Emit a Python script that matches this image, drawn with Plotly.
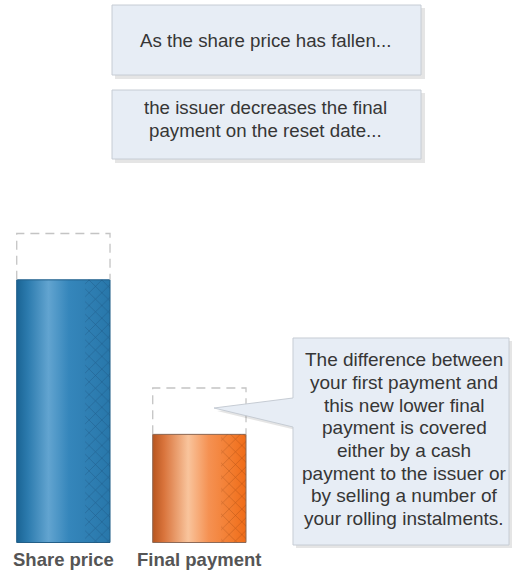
import plotly.graph_objects as go

# ---- data ----
categories = ["Share price", "Final payment"]
original_values = [100, 50]   # level before the fall (dashed outline)
current_values = [85, 35]     # level after the fall (filled bar)

box1_text = ["As the share price has fallen..."]
box2_text = ["the issuer decreases the final", "payment on the reset date..."]
callout_text = [
    "The difference between",
    "your first payment and",
    "this new lower final",
    "payment is covered",
    "either by a cash",
    "payment to the issuer or",
    "by selling a number of",
    "your rolling instalments.",
]

# ---- style ----
W, H = 515, 571
BAR_W = 0.686
HATCH_W = 0.184
FONT = "Liberation Sans, Arial, sans-serif"
TEXT_COLOR = "#363636"
BOX_FILL = "#e7edf5"
BOX_LINE = "#c6ccd4"
SHADOW = "rgba(0,0,0,0.10)"

gradients = [
    [[0, "#1a6494"], [0.12, "#2c7bae"], [0.34, "#62a4d0"], [0.56, "#3586bb"], [1, "#2877aa"]],
    [[0, "#b8561f"], [0.12, "#d9743c"], [0.38, "#f9c49c"], [0.6, "#f59152"], [0.85, "#f27b2d"], [1, "#f06c18"]],
]
base_colors = ["#3383b8", "#f28a45"]
outline_colors = ["#235f88", "#8c6a58"]
hatch_colors = ["rgba(15,55,95,0.5)", "rgba(120,45,5,0.5)"]


def px(x):
    return x / W


def py(y):
    return 1 - y / H


fig = go.Figure()

for i, cat in enumerate(categories):
    cur = current_values[i]
    orig = original_values[i]
    l, r = i - BAR_W / 2, i + BAR_W / 2
    hl = r - HATCH_W
    # base bar
    fig.add_trace(go.Bar(
        x=[i], y=[cur], width=BAR_W, marker=dict(color=base_colors[i], line=dict(width=0)),
        hoverinfo="skip", showlegend=False,
    ))
    # gradient face
    fig.add_trace(go.Scatter(
        x=[l, r, r, l, l], y=[0, 0, cur, cur, 0], mode="lines", fill="toself",
        fillgradient=dict(type="horizontal", colorscale=gradients[i]),
        line=dict(color=outline_colors[i], width=1), hoverinfo="skip", showlegend=False,
    ))
    # cross-hatch on the right part
    fig.add_trace(go.Scatter(
        x=[hl, r, r, hl, hl], y=[0, 0, cur, cur, 0], mode="lines", fill="toself",
        fillcolor="rgba(0,0,0,0)",
        fillpattern=dict(shape="x", size=9, solidity=0.1,
                         fgcolor=hatch_colors[i], bgcolor="rgba(0,0,0,0)", fillmode="replace"),
        line=dict(width=0, color="rgba(0,0,0,0)"), hoverinfo="skip", showlegend=False,
    ))
    # dashed outline of the original level
    fig.add_trace(go.Scatter(
        x=[l, l, r, r], y=[cur, orig, orig, cur], mode="lines",
        line=dict(color="#c4c4c4", width=1.3, dash="9px,6px"),
        hoverinfo="skip", showlegend=False,
    ))

shapes = []
annotations = []


def rect_box(x0, y0, x1, y1):
    shapes.append(dict(type="rect", xref="paper", yref="paper",
                       x0=px(x0 + 3), x1=px(x1 + 4), y0=py(y1 + 4), y1=py(y0 + 3),
                       fillcolor=SHADOW, line=dict(width=0), layer="above"))
    shapes.append(dict(type="rect", xref="paper", yref="paper",
                       x0=px(x0), x1=px(x1), y0=py(y1), y1=py(y0),
                       fillcolor=BOX_FILL, line=dict(color=BOX_LINE, width=1), layer="above"))


def text_lines(lines, cx, first_y, step, size):
    for k, t in enumerate(lines):
        annotations.append(dict(xref="paper", yref="paper", x=px(cx), y=py(first_y + k * step),
                                text=t, showarrow=False, xanchor="center", yanchor="middle",
                                font=dict(family=FONT, size=size, color=TEXT_COLOR)))


rect_box(112, 5, 421, 75)
text_lines(box1_text, 265, 40, 23, 18.7)
rect_box(112, 90, 421, 159)
text_lines(box2_text, 265, 107, 23.5, 18.7)


def callout_path(dx, dy):
    pts = [(293, 338), (509, 338), (509, 545), (293, 545), (293, 427), (214, 408), (293, 398)]
    return "M " + " L ".join(f"{px(x + dx):.5f},{py(y + dy):.5f}" for x, y in pts) + " Z"


shapes.append(dict(type="path", xref="paper", yref="paper", path=callout_path(3, 3),
                   fillcolor=SHADOW, line=dict(width=0), layer="above"))
shapes.append(dict(type="path", xref="paper", yref="paper", path=callout_path(0, 0),
                   fillcolor=BOX_FILL, line=dict(color=BOX_LINE, width=1), layer="above"))
text_lines(callout_text, 404, 360, 22.6, 19)

# category labels under the bars
for i, cat in enumerate(categories):
    annotations.append(dict(xref="x", yref="paper", x=i, y=py(559), text=f"<b>{cat}</b>",
                            showarrow=False, xanchor="center", yanchor="middle",
                            font=dict(family=FONT, size=18.5, color="#555555")))

fig.update_layout(
    width=W, height=H, margin=dict(l=0, r=0, t=0, b=0),
    paper_bgcolor="white", plot_bgcolor="white",
    barmode="overlay", showlegend=False,
    xaxis=dict(range=[-0.466, 3.321], visible=False, fixedrange=True),
    yaxis=dict(range=[-9.22, 175.57], visible=False, fixedrange=True),
    shapes=shapes, annotations=annotations,
)

fig.write_html("out.html", post_script="document.body.style.margin='0';",
               config={"displayModeBar": False})
